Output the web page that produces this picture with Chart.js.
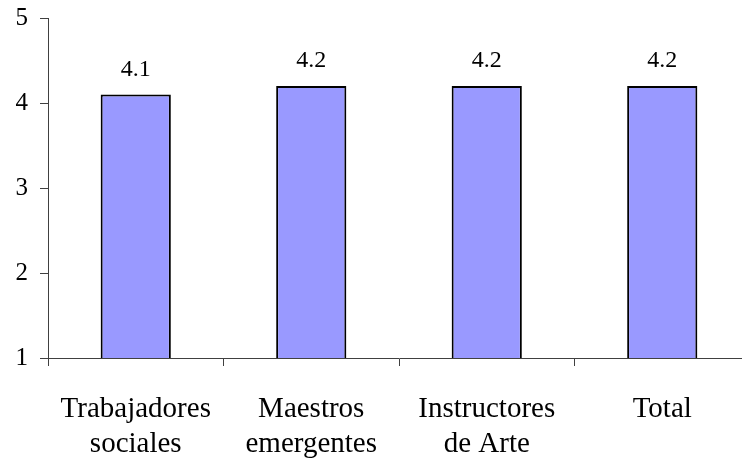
<!DOCTYPE html>
<html>
<head>
<meta charset="utf-8">
<script src="https://cdn.jsdelivr.net/npm/chart.js@4/dist/chart.umd.min.js"></script>
<style>
    html, body { margin: 0; padding: 0; background: #fff; overflow: hidden; }
    #wrap { width: 752px; height: 464px; position: relative; }
</style>
</head>
<body>
<div id="wrap"><canvas id="barChart"></canvas></div>
<script>
// ============================================
// Chart data
// ============================================
const categories = [
    ['Trabajadores', 'sociales'],
    ['Maestros', 'emergentes'],
    ['Instructores', 'de Arte'],
    'Total'
];
const values = [4.1, 4.2, 4.2, 4.2];
const yTicks = [1, 2, 3, 4, 5];

const serif = '"Liberation Serif", "Times New Roman", serif';
const axisColor = '#404040';

// ============================================
// Value labels above bars
// ============================================
const valueLabels = {
    id: 'valueLabels',
    afterDatasetsDraw(chart) {
        const ctx = chart.ctx;
        const meta = chart.getDatasetMeta(0);
        ctx.save();
        ctx.fillStyle = '#000';
        ctx.font = '24px ' + serif;
        ctx.textAlign = 'center';
        ctx.textBaseline = 'alphabetic';
        meta.data.forEach((bar, i) => {
            ctx.fillText(values[i].toFixed(1), bar.x, bar.y - 19);
        });
        ctx.restore();
    }
};

// ============================================
// Initialize chart
// ============================================
new Chart(document.getElementById('barChart'), {
    type: 'bar',
    data: {
        labels: categories,
        datasets: [{
            data: values,
            backgroundColor: '#9999FF',
            borderColor: '#000000',
            borderWidth: 2,
            borderSkipped: false,
            barPercentage: 0.4,
            categoryPercentage: 1.0
        }]
    },
    options: {
        responsive: true,
        maintainAspectRatio: false,
        animation: false,
        layout: { padding: { top: 18, left: 0, right: 2, bottom: 0 } },
        plugins: {
            legend: { display: false },
            tooltip: { enabled: false }
        },
        scales: {
            y: {
                min: 1,
                max: 5,
                afterFit: (scale) => {
                    scale.width = 48;
                    scale.paddingTop = 0;
                    scale.paddingBottom = 0;
                },
                afterBuildTicks: (scale) => {
                    scale.ticks = yTicks.map(v => ({ value: v }));
                },
                grid: {
                    drawOnChartArea: false,
                    drawTicks: true,
                    tickLength: 8,
                    color: axisColor
                },
                border: { display: true, color: axisColor, width: 1 },
                ticks: {
                    padding: 12,
                    color: '#000',
                    font: { family: serif, size: 25 }
                }
            },
            x: {
                afterFit: (scale) => {
                    scale.height = 106;
                    scale.paddingLeft = 0;
                    scale.paddingRight = 0;
                },
                grid: {
                    offset: true,
                    drawOnChartArea: false,
                    drawTicks: true,
                    tickLength: 8,
                    color: axisColor
                },
                border: { display: true, color: axisColor, width: 1 },
                ticks: {
                    padding: 26,
                    maxRotation: 0,
                    autoSkip: false,
                    color: '#000',
                    font: { family: serif, size: 29, lineHeight: 1.2 }
                }
            }
        }
    },
    plugins: [valueLabels]
});
</script>
</body>
</html>
